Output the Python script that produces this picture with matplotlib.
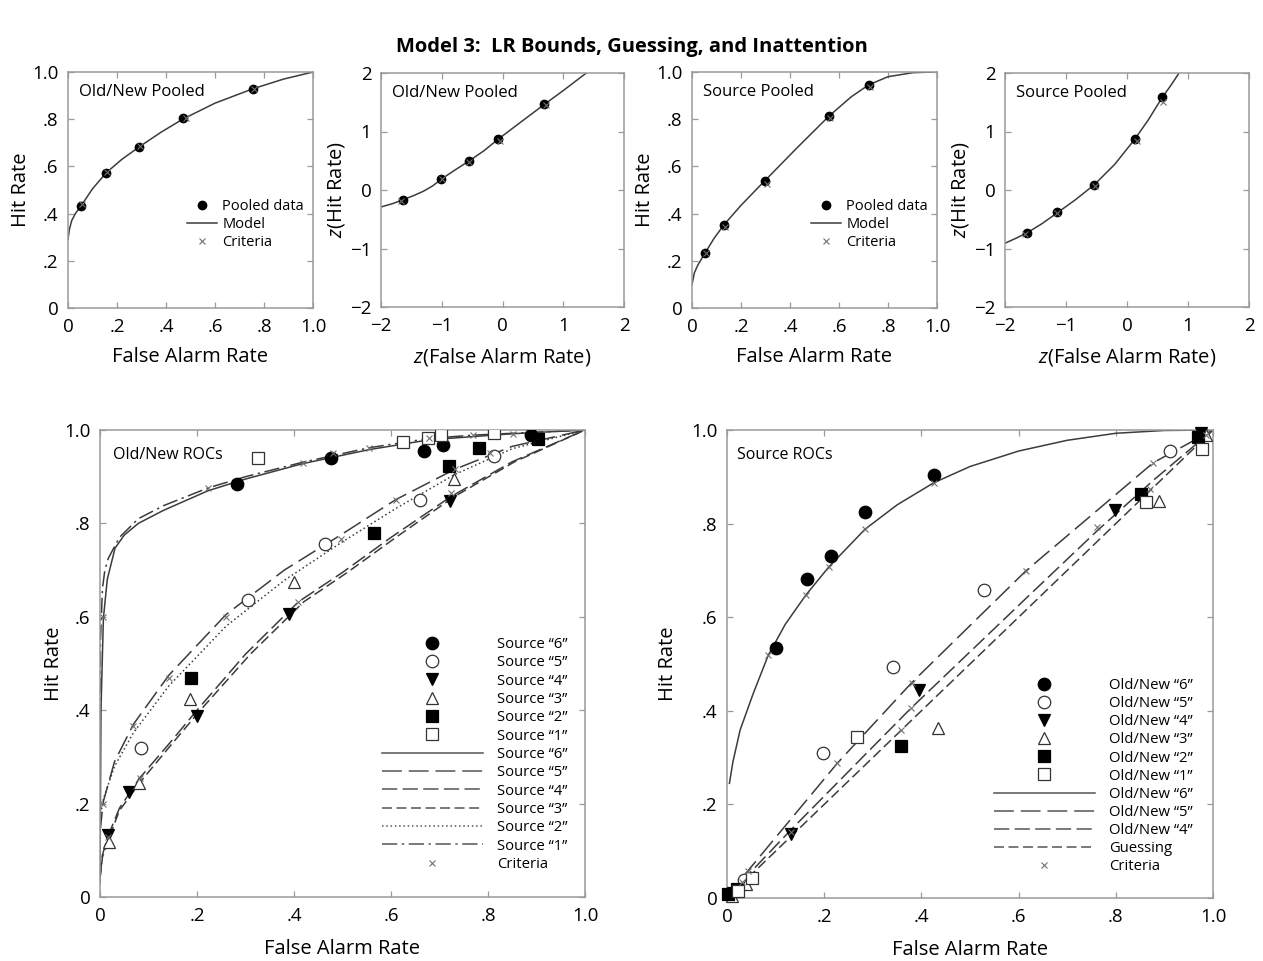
import matplotlib
matplotlib.use('Agg')
import matplotlib.pyplot as plt
from matplotlib.lines import Line2D

plt.rcParams['font.family'] = ['Open Sans', 'DejaVu Sans']
plt.rcParams['mathtext.fontset'] = 'custom'
plt.rcParams['mathtext.it'] = 'Open Sans:italic'
plt.rcParams['mathtext.rm'] = 'Open Sans'
plt.rcParams['axes.unicode_minus'] = True

# ---------------- data: top row ----------------
on_pooled_fa = [0.052, 0.156, 0.291, 0.468, 0.755]
on_pooled_hit = [0.431, 0.573, 0.683, 0.805, 0.929]
on_model_fa = [0.0, 0.005, 0.015, 0.03, 0.052, 0.1, 0.156, 0.22, 0.291, 0.38, 0.468, 0.6, 0.755, 0.88, 1.0]
on_model_hit = [0.29, 0.33, 0.37, 0.40, 0.431, 0.505, 0.573, 0.63, 0.683, 0.745, 0.800, 0.868, 0.929, 0.97, 1.0]
on_crit_fa = [0.056, 0.16, 0.295, 0.48, 0.76]
on_crit_hit = [0.44, 0.576, 0.686, 0.806, 0.93]

on_z_fa = [-1.633, -1.014, -0.559, -0.082, 0.685]
on_z_hit = [-0.165, 0.190, 0.490, 0.868, 1.465]
on_zmodel_fa = [-2.0, -1.8, -1.633, -1.45, -1.3, -1.15, -1.014, -0.8, -0.559, -0.3, -0.082, 0.3, 0.685, 1.0, 1.38]
on_zmodel_hit = [-0.29, -0.23, -0.165, -0.09, -0.02, 0.07, 0.18, 0.33, 0.49, 0.675, 0.86, 1.16, 1.46, 1.70, 2.0]
on_zcrit_fa = [-1.67, -1.0, -0.55, -0.04, 0.71]
on_zcrit_hit = [-0.18, 0.18, 0.48, 0.84, 1.45]

src_pooled_fa = [0.052, 0.130, 0.297, 0.558, 0.722]
src_pooled_hit = [0.231, 0.352, 0.539, 0.813, 0.946]
src_model_fa = [0.0, 0.01, 0.023, 0.052, 0.09, 0.13, 0.2, 0.297, 0.43, 0.558, 0.65, 0.722, 0.8, 0.9, 0.98]
src_model_hit = [0.10, 0.15, 0.18, 0.231, 0.295, 0.352, 0.435, 0.539, 0.68, 0.812, 0.895, 0.946, 0.98, 0.997, 1.0]
src_crit_fa = [0.056, 0.133, 0.305, 0.565, 0.727]
src_crit_hit = [0.235, 0.342, 0.525, 0.805, 0.935]

src_z_fa = [-1.634, -1.143, -0.538, 0.134, 0.570]
src_z_hit = [-0.729, -0.383, 0.088, 0.877, 1.586]
src_zmodel_fa = [-2.0, -1.8, -1.634, -1.4, -1.143, -0.85, -0.538, -0.2, 0.134, 0.35, 0.57, 0.72, 0.854]
src_zmodel_hit = [-0.91, -0.815, -0.729, -0.58, -0.39, -0.17, 0.088, 0.44, 0.877, 1.2, 1.57, 1.79, 2.0]
src_zcrit_fa = [-1.67, -1.14, -0.52, 0.16, 0.59]
src_zcrit_hit = [-0.75, -0.40, 0.07, 0.84, 1.50]

# ---------------- data: bottom-left (Old/New ROCs by source rating) ----------------
onroc_labels = ['Source \u201c6\u201d', 'Source \u201c5\u201d', 'Source \u201c4\u201d',
                'Source \u201c3\u201d', 'Source \u201c2\u201d', 'Source \u201c1\u201d']
onroc_fa = [
    [0.282, 0.476, 0.669, 0.708, 0.888],   # "6"
    [0.084, 0.306, 0.463, 0.660, 0.813],   # "5"
    [0.017, 0.060, 0.199, 0.389, 0.722],   # "4"
    [0.019, 0.081, 0.186, 0.401, 0.730],   # "3"
    [0.188, 0.564, 0.720, 0.782, 0.903],   # "2"
    [0.325, 0.624, 0.677, 0.704, 0.813],   # "1"
]
onroc_hit = [
    [0.884, 0.940, 0.955, 0.968, 0.989],
    [0.318, 0.636, 0.756, 0.850, 0.945],
    [0.133, 0.225, 0.388, 0.607, 0.848],
    [0.118, 0.245, 0.425, 0.674, 0.896],
    [0.468, 0.780, 0.923, 0.962, 0.981],
    [0.939, 0.975, 0.982, 0.989, 0.993],
]
oncurve6_fa = [0.0, 0.002, 0.007, 0.015, 0.031, 0.05, 0.079, 0.131, 0.223, 0.3, 0.418, 0.555, 0.679, 0.85, 1.0]
oncurve6_hit = [0.03, 0.40, 0.597, 0.68, 0.747, 0.775, 0.800, 0.828, 0.870, 0.895, 0.928, 0.958, 0.979, 0.992, 1.0]
oncurve1_fa = [0.0, 0.001, 0.005, 0.01, 0.017, 0.04, 0.079, 0.131, 0.223, 0.3, 0.418, 0.555, 0.679, 0.77, 0.851, 1.0]
oncurve1_hit = [0.15, 0.55, 0.66, 0.70, 0.725, 0.77, 0.81, 0.838, 0.876, 0.90, 0.931, 0.962, 0.982, 0.989, 0.993, 1.0]
oncurve5_fa = [0.0, 0.007, 0.03, 0.069, 0.142, 0.26, 0.38, 0.496, 0.61, 0.732, 0.85, 1.0]
oncurve5_hit = [0.14, 0.205, 0.29, 0.370, 0.475, 0.605, 0.700, 0.775, 0.851, 0.916, 0.965, 1.0]
oncurve2_fa = [0.0, 0.007, 0.03, 0.069, 0.142, 0.26, 0.38, 0.496, 0.61, 0.732, 0.85, 1.0]
oncurve2_hit = [0.17, 0.21, 0.28, 0.352, 0.452, 0.580, 0.678, 0.758, 0.832, 0.905, 0.960, 1.0]
oncurve4_fa = [0.0, 0.005, 0.016, 0.04, 0.082, 0.144, 0.2, 0.3, 0.409, 0.5, 0.6, 0.723, 0.85, 1.0]
oncurve4_hit = [0.04, 0.09, 0.129, 0.19, 0.255, 0.33, 0.40, 0.52, 0.632, 0.695, 0.770, 0.857, 0.932, 1.0]
oncurve3_fa = [0.0, 0.005, 0.018, 0.04, 0.086, 0.15, 0.207, 0.31, 0.42, 0.51, 0.61, 0.73, 0.855, 1.0]
oncurve3_hit = [0.04, 0.085, 0.125, 0.185, 0.25, 0.33, 0.40, 0.52, 0.632, 0.695, 0.770, 0.857, 0.932, 1.0]
oncrit_fa = [0.007, 0.223, 0.418, 0.481, 0.555, 0.679, 0.770, 0.851,
             0.007, 0.069, 0.142, 0.26, 0.496, 0.61, 0.732, 0.804,
             0.016, 0.082, 0.409, 0.723]
oncrit_hit = [0.60, 0.875, 0.930, 0.951, 0.961, 0.982, 0.989, 0.991,
              0.20, 0.367, 0.470, 0.600, 0.766, 0.851, 0.916, 0.950,
              0.129, 0.255, 0.632, 0.866]

# ---------------- data: bottom-right (Source ROCs by old/new rating) ----------------
sroc_labels = ['Old/New \u201c6\u201d', 'Old/New \u201c5\u201d', 'Old/New \u201c4\u201d',
               'Old/New \u201c3\u201d', 'Old/New \u201c2\u201d', 'Old/New \u201c1\u201d']
sroc_fa = [
    [0.101, 0.165, 0.213, 0.284, 0.425],
    [0.034, 0.197, 0.342, 0.529, 0.912],
    [0.012, 0.131, 0.396, 0.798, 0.975],
    [0.010, 0.040, 0.435, 0.888, 0.985],
    [0.003, 0.020, 0.359, 0.851, 0.970],
    [0.022, 0.051, 0.267, 0.862, 0.977],
]
sroc_hit = [
    [0.535, 0.682, 0.731, 0.824, 0.904],
    [0.038, 0.309, 0.494, 0.659, 0.955],
    [0.010, 0.137, 0.444, 0.830, 0.993],
    [0.004, 0.030, 0.363, 0.848, 0.990],
    [0.008, 0.020, 0.325, 0.863, 0.985],
    [0.015, 0.042, 0.343, 0.847, 0.959],
]
scurve6_fa = [0.005, 0.012, 0.027, 0.054, 0.085, 0.12, 0.162, 0.21, 0.284, 0.35, 0.425,
              0.5, 0.6, 0.7, 0.8, 0.9, 1.0]
scurve6_hit = [0.245, 0.29, 0.359, 0.437, 0.519, 0.585, 0.647, 0.708, 0.788, 0.84, 0.887,
               0.922, 0.955, 0.978, 0.993, 0.999, 1.0]
scurve5_fa = [0.0, 0.043, 0.227, 0.38, 0.615, 0.877, 1.0]
scurve5_hit = [0.0, 0.058, 0.288, 0.46, 0.699, 0.930, 1.0]
scurve4_fa = [0.0, 0.03, 0.131, 0.378, 0.62, 0.762, 0.88, 1.0]
scurve4_hit = [0.0, 0.035, 0.145, 0.405, 0.645, 0.785, 0.895, 1.0]
sguess_fa = [0.0, 1.0]
sguess_hit = [0.0, 1.0]
scrit_fa = [0.085, 0.162, 0.210, 0.284, 0.425,
            0.043, 0.227, 0.380, 0.615, 0.877,
            0.030, 0.131, 0.378, 0.762, 0.985,
            0.359, 0.870]
scrit_hit = [0.519, 0.647, 0.708, 0.788, 0.887,
             0.058, 0.288, 0.460, 0.699, 0.930,
             0.035, 0.140, 0.405, 0.793, 0.990,
             0.359, 0.873]

roc_ticks = [0, 0.2, 0.4, 0.6, 0.8, 1.0]
roc_ticklabels = ['0', '.2', '.4', '.6', '.8', '1.0']
z_ticks = [-2, -1, 0, 1, 2]
z_ticklabels = ['\u22122', '\u22121', '0', '1', '2']

# ---------------- styles ----------------
LINE_C = '#3c3c3c'
CRIT_C = '#707070'
SPINE_C = '#9a9a9a'
marker_styles = [
    dict(marker='o', mfc='black', mec='black'),
    dict(marker='o', mfc='white', mec='#333333'),
    dict(marker='v', mfc='black', mec='black'),
    dict(marker='^', mfc='white', mec='#333333'),
    dict(marker='s', mfc='black', mec='black'),
    dict(marker='s', mfc='white', mec='#333333'),
]
marker_sizes = [9, 9, 9, 8.5, 8, 8]
dash_6 = (None, None)
dash_5 = (13, 4.5)
dash_4 = (10, 3.5)
dash_3 = (6.5, 3)
dash_2 = (1, 1.8)
dash_1 = (10, 3, 1.5, 3)

LABEL_FS = 14.5
TICK_FS = 13.5

fig = plt.figure(figsize=(12.63, 9.61), dpi=100)
W, H = 1263.0, 961.0


def make_axes(x0, x1, ytop, ybot):
    return fig.add_axes([x0 / W, 1 - ybot / H, (x1 - x0) / W, (ybot - ytop) / H])


def style(ax, ticks, labels, lim, labelsize, pad):
    ax.set_xlim(lim)
    ax.set_ylim(lim)
    ax.set_xticks(ticks)
    ax.set_xticklabels(labels)
    ax.set_yticks(ticks)
    ax.set_yticklabels(labels)
    ax.tick_params(direction='in', top=True, right=True, length=4.5, width=0.9,
                   color=SPINE_C, labelsize=labelsize, pad=pad)
    for s in ax.spines.values():
        s.set_color(SPINE_C)
        s.set_linewidth(1.1)


ax1 = make_axes(68, 313, 72, 308)
ax2 = make_axes(381, 624, 73, 307)
ax3 = make_axes(692, 937, 72, 308)
ax4 = make_axes(1005, 1249, 73, 307)
ax5 = make_axes(100, 585, 430, 897)
ax6 = make_axes(727, 1213, 430, 898)

# ---- top row ----
for ax, mfa, mhit, dfa, dhit, cfa, chit, name, zspace in [
    (ax1, on_model_fa, on_model_hit, on_pooled_fa, on_pooled_hit, on_crit_fa, on_crit_hit, 'Old/New Pooled', False),
    (ax2, on_zmodel_fa, on_zmodel_hit, on_z_fa, on_z_hit, on_zcrit_fa, on_zcrit_hit, 'Old/New Pooled', True),
    (ax3, src_model_fa, src_model_hit, src_pooled_fa, src_pooled_hit, src_crit_fa, src_crit_hit, 'Source Pooled', False),
    (ax4, src_zmodel_fa, src_zmodel_hit, src_z_fa, src_z_hit, src_zcrit_fa, src_zcrit_hit, 'Source Pooled', True),
]:
    ax.plot(mfa, mhit, color=LINE_C, lw=1.1, zorder=2)
    ax.plot(dfa, dhit, ls='none', marker='o', ms=6, mfc='black', mec='black', zorder=3)
    ax.plot(cfa, chit, ls='none', marker='x', ms=4.5, mew=0.8, color=CRIT_C, zorder=4)
    ax.text(0.045, 0.915, name, transform=ax.transAxes, fontsize=12, va='center', ha='left')
    if zspace:
        style(ax, z_ticks, z_ticklabels, (-2, 2), TICK_FS, 7)
        ax.set_xlabel('$z$(False Alarm Rate)', fontsize=LABEL_FS, labelpad=8)
        ax.set_ylabel('$z$(Hit Rate)', fontsize=LABEL_FS, labelpad=2)
    else:
        style(ax, roc_ticks, roc_ticklabels, (0, 1), TICK_FS, 7)
        ax.set_xlabel('False Alarm Rate', fontsize=LABEL_FS, labelpad=8)
        ax.set_ylabel('Hit Rate', fontsize=LABEL_FS, labelpad=1)
        handles = [Line2D([], [], ls='none', marker='o', ms=6, mfc='black', mec='black'),
                   Line2D([], [], color=LINE_C, lw=1.1),
                   Line2D([], [], ls='none', marker='x', ms=4.5, mew=0.8, color=CRIT_C)]
        ax.legend(handles, ['Pooled data', 'Model', 'Criteria'], loc='upper left',
                  bbox_to_anchor=(0.484, 0.46), frameon=False, fontsize=10.5,
                  handlelength=2.1, handletextpad=0.35, labelspacing=0.2,
                  borderpad=0, borderaxespad=0, numpoints=1)

# ---- bottom-left: Old/New ROCs ----
on_curves = [(oncurve6_fa, oncurve6_hit, dash_6), (oncurve5_fa, oncurve5_hit, dash_5),
             (oncurve4_fa, oncurve4_hit, dash_4), (oncurve3_fa, oncurve3_hit, dash_3),
             (oncurve2_fa, oncurve2_hit, dash_2), (oncurve1_fa, oncurve1_hit, dash_1)]
line_handles = []
for fa, hit, d in on_curves:
    ln, = ax5.plot(fa, hit, color=LINE_C, lw=1.1, zorder=2)
    if d[0] is not None:
        ln.set_dashes(d)
    h = Line2D([], [], color='#555555', lw=1.1)
    if d[0] is not None:
        h.set_dashes(d)
    line_handles.append(h)
marker_handles = []
for i in range(6):
    ax5.plot(onroc_fa[i], onroc_hit[i], ls='none', ms=marker_sizes[i], mew=0.9,
             zorder=3, **marker_styles[i])
    marker_handles.append(Line2D([], [], ls='none', ms=marker_sizes[i], mew=0.9, **marker_styles[i]))
ax5.plot(oncrit_fa, oncrit_hit, ls='none', marker='x', ms=5, mew=0.8, color=CRIT_C, zorder=4)
crit_handle = Line2D([], [], ls='none', marker='x', ms=5, mew=0.8, color=CRIT_C)
style(ax5, roc_ticks, roc_ticklabels, (0, 1), TICK_FS, 7)
ax5.set_xlabel('False Alarm Rate', fontsize=LABEL_FS, labelpad=10)
ax5.set_ylabel('Hit Rate', fontsize=LABEL_FS, labelpad=0)
ax5.text(0.026, 0.946, 'Old/New ROCs', transform=ax5.transAxes, fontsize=11.5, va='center')
ax5.legend(marker_handles + line_handles + [crit_handle],
           onroc_labels + onroc_labels + ['Criteria'], loc='upper left',
           bbox_to_anchor=(0.581, 0.557), frameon=False, fontsize=10.7,
           handlelength=6.8, handletextpad=0.93, labelspacing=0.225,
           borderpad=0, borderaxespad=0, numpoints=1)

# ---- bottom-right: Source ROCs ----
s_curves = [(scurve6_fa, scurve6_hit, dash_6), (scurve5_fa, scurve5_hit, dash_5),
            (scurve4_fa, scurve4_hit, dash_4), (sguess_fa, sguess_hit, dash_3)]
s_line_handles = []
for fa, hit, d in s_curves:
    ln, = ax6.plot(fa, hit, color=LINE_C, lw=1.1, zorder=2)
    if d[0] is not None:
        ln.set_dashes(d)
    h = Line2D([], [], color='#555555', lw=1.1)
    if d[0] is not None:
        h.set_dashes(d)
    s_line_handles.append(h)
s_marker_handles = []
for i in range(6):
    ax6.plot(sroc_fa[i], sroc_hit[i], ls='none', ms=marker_sizes[i], mew=0.9,
             zorder=3, clip_on=False, **marker_styles[i])
    s_marker_handles.append(Line2D([], [], ls='none', ms=marker_sizes[i], mew=0.9, **marker_styles[i]))
ax6.plot(scrit_fa, scrit_hit, ls='none', marker='x', ms=5, mew=0.8, color=CRIT_C, zorder=4)
style(ax6, roc_ticks, roc_ticklabels, (0, 1), TICK_FS, 7)
ax6.set_xlabel('False Alarm Rate', fontsize=LABEL_FS, labelpad=10)
ax6.set_ylabel('Hit Rate', fontsize=LABEL_FS, labelpad=9)
ax6.text(0.02, 0.946, 'Source ROCs', transform=ax6.transAxes, fontsize=11.5, va='center')
ax6.legend(s_marker_handles + s_line_handles + [crit_handle],
           sroc_labels + sroc_labels[:3] + ['Guessing', 'Criteria'], loc='upper left',
           bbox_to_anchor=(0.549, 0.470), frameon=False, fontsize=10.7,
           handlelength=6.8, handletextpad=0.93, labelspacing=0.21,
           borderpad=0, borderaxespad=0, numpoints=1)

fig.text(0.5, 1 - 47 / H, 'Model 3:  LR Bounds, Guessing, and Inattention',
         ha='center', va='center', fontsize=14.5, fontweight='bold')

fig.savefig('out.png', dpi=100)
